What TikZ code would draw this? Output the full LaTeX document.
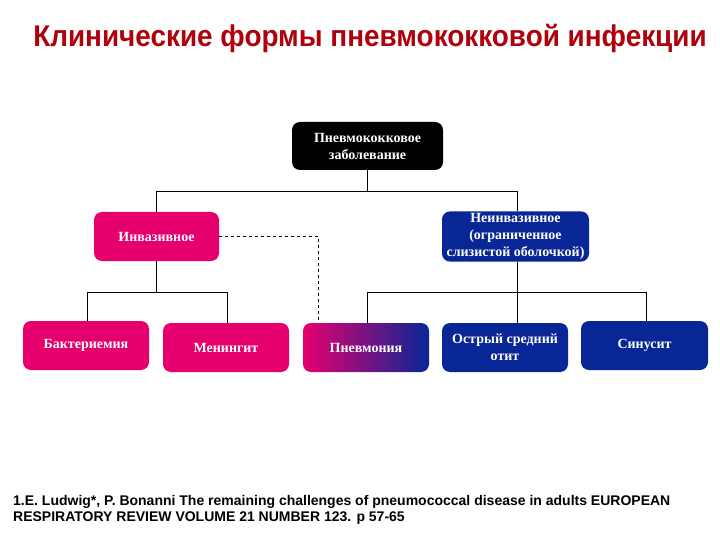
\documentclass[tikz,border=0pt]{standalone}
\usepackage{fontspec}
\setmainfont{Liberation Serif}
\newfontfamily\headfont{Liberation Sans}
\definecolor{invpink}{RGB}{230, 0, 110}
\definecolor{nonblue}{RGB}{8, 38, 150}
\definecolor{titlered}{RGB}{175, 0, 12}
\usetikzlibrary{positioning, calc}

\begin{document}
\begin{tikzpicture}[x=1pt, y=-1pt,
  formbox/.style={rounded corners=8pt, text=white, align=center, inner sep=2pt,
    minimum width=126pt, minimum height=49pt, font=\fontsize{14}{17}\selectfont\bfseries},
  invbox/.style={formbox, fill=invpink},
  nonbox/.style={formbox, fill=nonblue},
  link/.style={draw, line width=0.9pt}
]
  \useasboundingbox (0,0) rectangle (720,540);

  \node[font=\headfont\fontsize{30}{34}\selectfont\bfseries, text=titlered] (title) at (370, 38)
    {\scalebox{0.93}[1]{Клинические формы пневмококковой инфекции}};

  % top level
  \node[formbox, fill=black, minimum width=151pt, minimum height=48pt] (disease) at (367.5, 146)
    {Пневмококковое\\заболевание};

  % invasive / noninvasive
  \node[invbox, minimum width=125pt] (invasive) at (156.5, 236.5) {Инвазивное};
  \node[nonbox, minimum width=147pt] (noninv) at (515.5, 236.5)
    {Неинвазивное\\(ограниченное\\слизистой оболочкой)};

  % clinical forms
  \node[invbox] (bacter) at (86, 345.5) {Бактериемия};
  \node[invbox] (mening) at (226, 347.5) {Менингит};
  \node[formbox, left color=invpink, right color=nonblue, middle color=invpink!50!nonblue] (pneum) at (366, 347.5) {Пневмония};
  \node[nonbox] (otitis) at (505, 347.5) {Острый средний\\отит};
  \node[nonbox, minimum width=127pt] (sinus) at (644.5, 345.5) {Синусит};

  \draw[link] (disease.south) -- ([yshift=-21pt]disease.south) -| (invasive.north);
  \draw[link] ([yshift=-21pt]disease.south) -| ([xshift=1.5pt]noninv.north);

  \draw[link] (invasive.south) -- ([yshift=-31pt]invasive.south) -| ([xshift=1pt]bacter.north);
  \draw[link] ([yshift=-31pt]invasive.south) -| ([xshift=1pt]mening.north);

  \draw[link] ([xshift=1.5pt]noninv.south) -- ([xshift=1.5pt]noninv.south |- otitis.north);
  \draw[link] ([xshift=1.5pt, yshift=-31pt]noninv.south) -| ([xshift=1pt]pneum.north);
  \draw[link] ([xshift=1.5pt, yshift=-31pt]noninv.south) -| ([xshift=1.5pt]sinus.north);

  \draw[link, dashed] (invasive.east) -| ([xshift=16pt]pneum.north west);

  \node[anchor=base west, align=left, inner sep=0pt, font=\headfont\fontsize{14}{15.5}\selectfont\bfseries] (ref) at (13, 521)
    {1.E. Ludwig*, P. Bonanni The remaining challenges of pneumococcal disease in adults EUROPEAN\\
     RESPIRATORY REVIEW VOLUME 21 NUMBER 123. p 57-65};
\end{tikzpicture}
\end{document}
